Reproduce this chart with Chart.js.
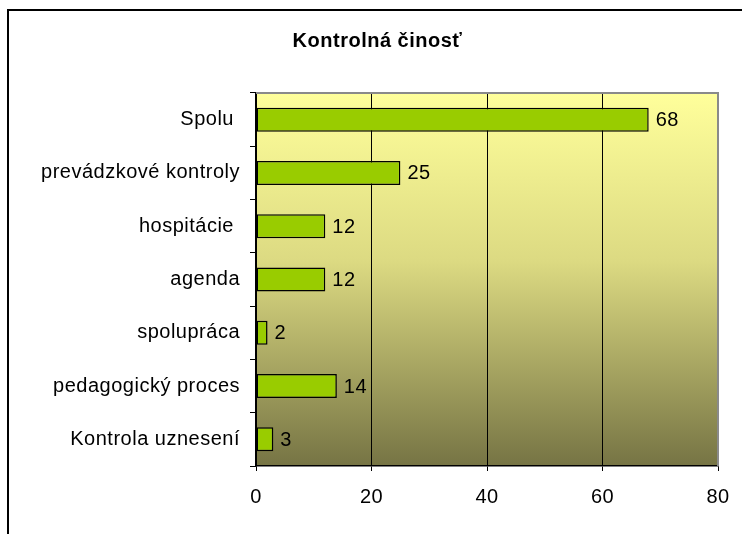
<!DOCTYPE html>
<html>
<head>
<meta charset="utf-8">
<script src="https://cdn.jsdelivr.net/npm/chart.js@4"></script>
<style>
  html, body { margin: 0; padding: 0; background: #fff; overflow: hidden; }
  #wrap { position: relative; width: 742px; height: 534px; }
  #frame { position: absolute; left: 7px; top: 9px; width: 800px; height: 600px; border: 2px solid #000; pointer-events: none; }
  canvas { position: absolute; left: 0; top: 0; }
</style>
</head>
<body>
<div id="wrap">
  <canvas id="barchart" width="742" height="534"></canvas>
  <div id="frame"></div>
</div>
<script>
// data
const categories = ['Spolu ', 'prevádzkové kontroly', 'hospitácie ', 'agenda', 'spolupráca', 'pedagogický proces', 'Kontrola uznesení'];
const values = [68, 25, 12, 12, 2, 14, 3];
const xTicks = [0, 20, 40, 60, 80];

const font = "'Liberation Sans', Arial, sans-serif";

// the excel text is a little spread out
const spacing = {
    id: 'spacing',
    beforeUpdate(chart) { chart.ctx.letterSpacing = '0.5px'; },
    beforeDraw(chart) { chart.ctx.letterSpacing = '0.5px'; }
};

// gradient plot background + grey frame
const plotBg = {
    id: 'plotBg',
    beforeDraw(chart) {
        const a = chart.chartArea;
        const c = chart.ctx;
        const g = c.createLinearGradient(0, a.top, 0, a.bottom);
        g.addColorStop(0, 'rgb(255,255,155)');
        g.addColorStop(0.45, 'rgb(220,218,130)');
        g.addColorStop(1, 'rgb(118,116,68)');
        c.save();
        c.fillStyle = g;
        c.fillRect(a.left, a.top, a.right - a.left, a.bottom - a.top);
        c.restore();
    },
    afterDraw(chart) {
        const a = chart.chartArea;
        const c = chart.ctx;
        c.save();
        c.strokeStyle = '#8a8a8a';
        c.lineWidth = 2;
        c.beginPath();
        c.moveTo(a.left, a.top);
        c.lineTo(a.right, a.top);
        c.lineTo(a.right, a.bottom);
        c.stroke();
        c.restore();
    }
};

// numbers to the right of each bar
const valueLabels = {
    id: 'valueLabels',
    afterDatasetsDraw(chart) {
        const c = chart.ctx;
        const meta = chart.getDatasetMeta(0);
        c.save();
        c.font = '20px ' + font;
        c.fillStyle = '#000';
        c.textAlign = 'left';
        c.textBaseline = 'middle';
        meta.data.forEach((bar, i) => {
            c.fillText(String(values[i]), bar.x + 7, bar.y + 1);
        });
        c.restore();
    }
};

const ctx = document.getElementById('barchart').getContext('2d');
const chart = new Chart(ctx, {
    type: 'bar',
    data: {
        labels: categories,
        datasets: [{
            data: values,
            backgroundColor: '#99cc00',
            borderColor: '#000',
            borderWidth: 1.5,
            borderSkipped: false,
            barPercentage: 0.45,
            categoryPercentage: 1
        }]
    },
    options: {
        indexAxis: 'y',
        responsive: false,
        animation: false,
        layout: { padding: { left: 37, right: 24, top: 0, bottom: 0 } },
        plugins: {
            legend: { display: false },
            tooltip: { enabled: false },
            title: {
                display: true,
                text: 'Kontrolná činosť',
                color: '#000',
                font: { family: font, size: 20, weight: 'bold' },
                padding: { top: 29, bottom: 40 }
            }
        },
        scales: {
            x: {
                min: 0,
                max: 80,
                afterBuildTicks(scale) {
                    scale.ticks = xTicks.map(v => ({ value: v }));
                },
                afterFit(scale) {
                    scale.height = 68;
                    scale.paddingRight = 0;
                },
                grid: {
                    color: c => (c.tick && c.tick.value === 80) ? '#8a8a8a' : '#000',
                    lineWidth: 1,
                    tickLength: 5,
                    tickColor: '#000'
                },
                border: { display: true, color: '#000', width: 1.5 },
                ticks: {
                    color: '#000',
                    padding: 14,
                    font: { family: font, size: 20 }
                }
            },
            y: {
                afterFit(scale) { scale.width = 219; },
                grid: {
                    drawOnChartArea: false,
                    drawTicks: true,
                    tickLength: 6,
                    color: '#000',
                    offset: true
                },
                border: { display: true, color: '#000', width: 1.5 },
                ticks: {
                    color: '#000',
                    padding: 10,
                    font: { family: font, size: 20 }
                }
            }
        }
    },
    plugins: [spacing, plotBg, valueLabels]
});
</script>
</body>
</html>
